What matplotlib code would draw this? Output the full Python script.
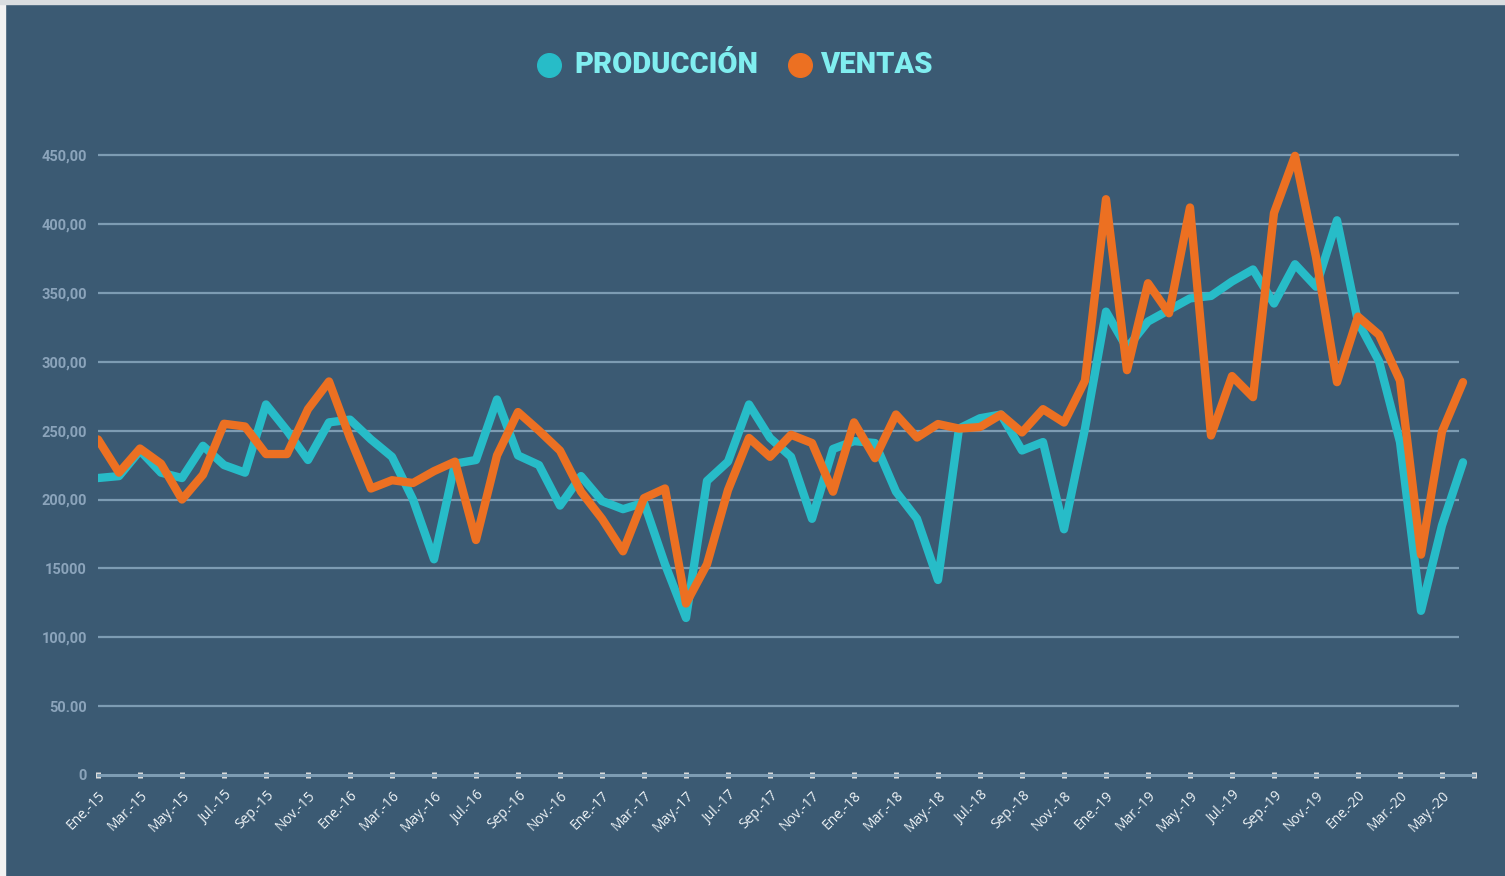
import matplotlib.pyplot as plt
from matplotlib.lines import Line2D
from matplotlib.patches import Rectangle
import numpy as np

# monthly series, Ene-15 .. Jun-20
produccion = [215.6, 217, 235.5, 219.5, 215.6, 239, 225, 219.5, 269, 250, 228.7, 256,
              258, 243.6, 231, 200, 156.6, 226, 228.7, 272.6, 232, 225, 195.6, 217,
              198.9, 193, 197.7, 153, 114, 213.5, 227.5, 269, 244.7, 231, 186, 236.7,
              242.4, 241, 205.7, 186, 141.6, 251.5, 259, 261.7, 235.6, 241.7, 178.4, 251.5,
              336.4, 310, 329.2, 337.6, 346, 347.8, 358.3, 367, 342.3, 370.8, 354.5, 402.7,
              329, 300.4, 241.7, 119.2, 181.2, 227]
ventas = [243.6, 219.5, 237, 226, 200, 218, 255, 253, 233, 233, 265.6, 285.7,
          244.7, 208, 214, 212, 220.6, 227.5, 170.6, 232, 263.5, 250, 235.5, 205.7,
          186, 162.4, 201, 208, 124.5, 153, 206.9, 244.7, 231, 247, 241, 205.7,
          256, 230, 261.7, 245, 254.8, 251.5, 252.6, 261.7, 248.7, 265.6, 255.9, 286.3,
          418, 293.9, 357, 335.2, 412, 246.5, 289.6, 274.3, 408, 449.5, 376, 285.2,
          332.8, 319.6, 286.3, 160, 249.3, 285.2]

meses = ["Ene.", "Feb.", "Mar.", "Abr.", "May.", "Jun.", "Jul.", "Ago.", "Sep.", "Oct.", "Nov.", "Dic."]
anios = ["15", "16", "17", "18", "19", "20"]
etiquetas = [m + "-" + a for a in anios for m in meses][:len(produccion)]

y_ticks = [0, 50, 100, 150, 200, 250, 300, 350, 400, 450]
y_labels = ["0", "50.00", "100,00", "15000", "200,00", "250,00", "300,00", "350,00", "400,00", "450,00"]

bg = "#3b5a73"
cian = "#27bcc8"
naranja = "#ec7022"
grid_col = "#7d9cb3"

fig = plt.figure(figsize=(15.05, 8.76), dpi=100, facecolor=bg)
# thin light border on the left/top of the original image
fig.add_artist(Rectangle((0, 0), 5 / 1505, 1, transform=fig.transFigure, color="#f2f2f2", zorder=0))
fig.add_artist(Rectangle((0, 1 - 4 / 876), 1, 4 / 876, transform=fig.transFigure, color="#d9dde0", zorder=0))

ax = fig.add_axes([98 / 1505, 101 / 876, 1376 / 1505, 635 / 876])
ax.set_facecolor(bg)

x = np.arange(len(produccion))
x_end = 1376 / 21.0

ax.hlines(y_ticks[1:], 0, 64.8, color=grid_col, lw=1.6, zorder=1)
ax.plot(x, produccion, color=cian, lw=6, zorder=3, solid_capstyle="round")
ax.plot(x, ventas, color=naranja, lw=6, zorder=4, solid_capstyle="round")

ax.set_xlim(0, x_end)
ax.set_ylim(0, 461)

for s in ["top", "right", "left"]:
    ax.spines[s].set_visible(False)
ax.spines["bottom"].set_color(grid_col)
ax.spines["bottom"].set_linewidth(2.2)

tick_pos = list(x[::2]) + [x_end]
ax.set_xticks(tick_pos)
ax.set_xticklabels(etiquetas[::2] + [""], rotation=45, ha="right", rotation_mode="anchor",
                   fontsize=10, color="#eef3f6", family="Open Sans")
ax.tick_params(axis="x", direction="inout", length=4.5, width=3.6, color="#dcdcdc", pad=7)

ax.set_yticks(y_ticks)
ax.set_yticklabels(y_labels, fontsize=10.5, fontweight="bold", color="#8ba4bb", family="Roboto")
ax.tick_params(axis="y", length=0, pad=8)

# legend at top
ly = 1 - 65 / 876
for cx, tx, col, txt in [(549, 574, cian, "PRODUCCIÓN"), (800, 820, naranja, "VENTAS")]:
    fig.add_artist(Line2D([cx / 1505], [ly], marker="o", markersize=17, color=col,
                          transform=fig.transFigure))
    fig.text(tx / 1505, ly, txt, color="#80eef0", fontsize=21, fontweight="black",
             family="Roboto", va="center", ha="left")

plt.savefig("out.png", dpi=100, facecolor=bg)
